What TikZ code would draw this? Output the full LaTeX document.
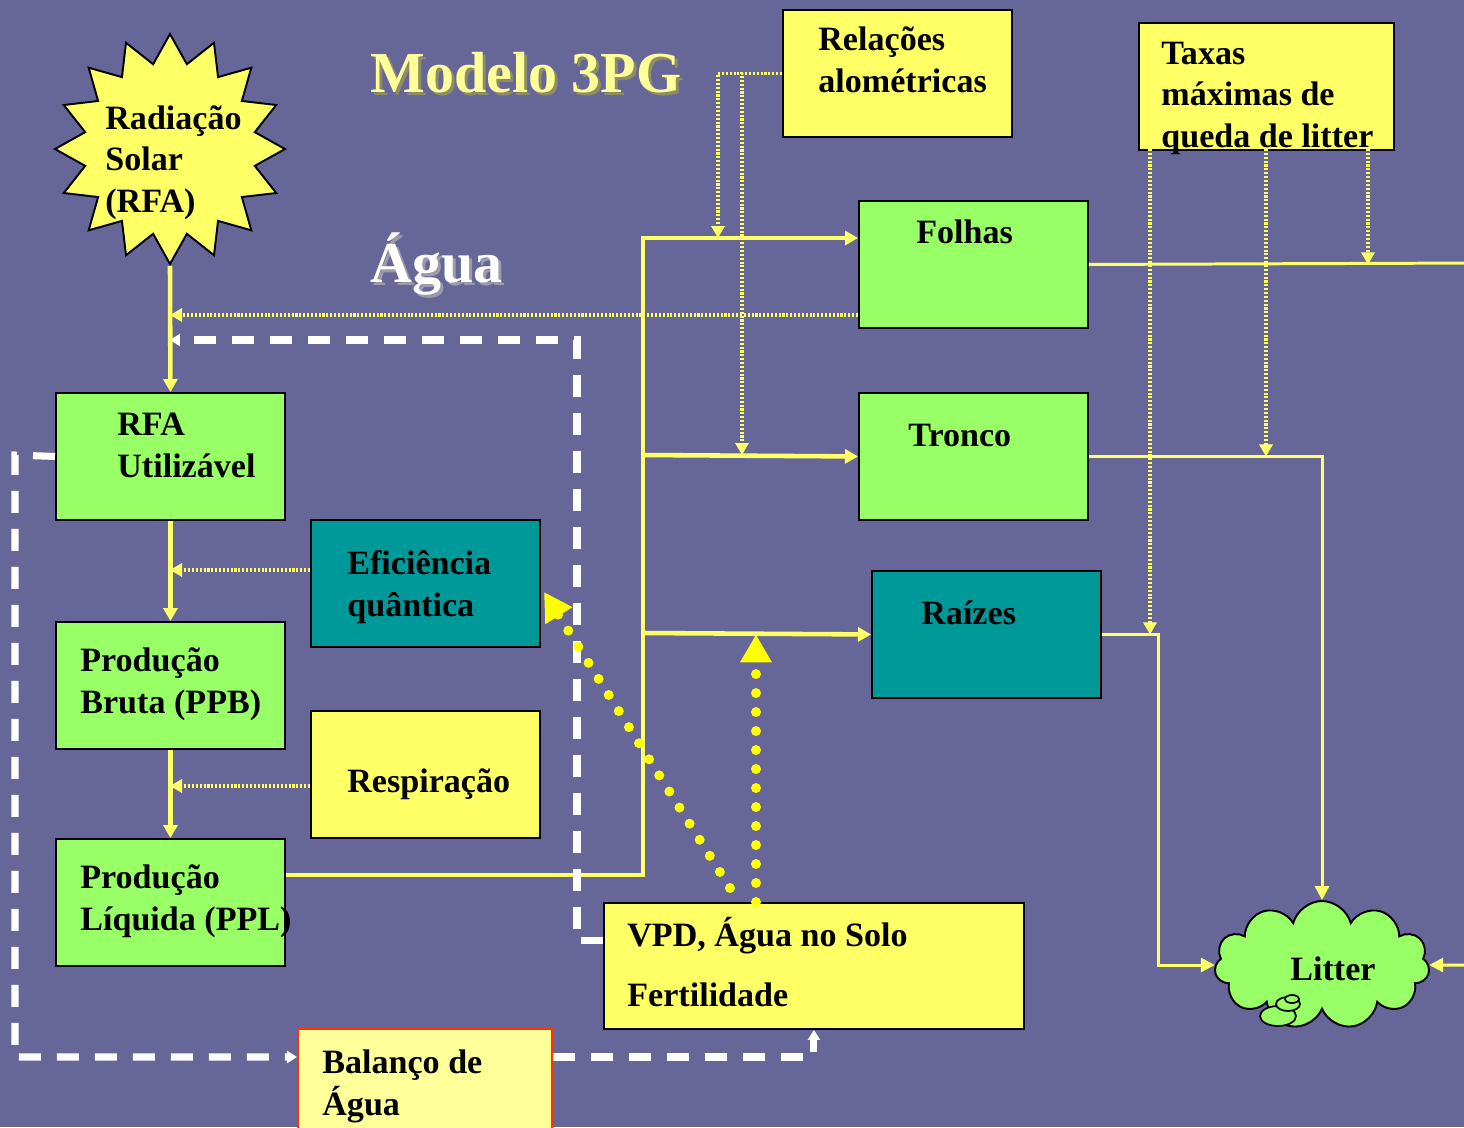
\documentclass[tikz,border=0pt]{standalone}
\usepackage{fontspec}
\setmainfont{Liberation Serif}
\usetikzlibrary{arrows.meta,shapes.geometric,shapes.symbols}

\definecolor{slate}{HTML}{666699}
\definecolor{leaf}{HTML}{99FF66}
\definecolor{tealbg}{HTML}{009999}
\definecolor{paleyellow}{HTML}{FFFF66}
\definecolor{cream}{HTML}{FFFF99}
\definecolor{lineyellow}{HTML}{FFFF66}
\definecolor{dotyellow}{HTML}{FFFF00}
\definecolor{rim}{HTML}{FF3300}
\definecolor{titleshadow}{HTML}{8E8E62}
\definecolor{aguashadow}{HTML}{9C9CA8}

\tikzset{
  box/.style={draw=black, line width=1.1pt, anchor=north west, inner sep=0pt,
    minimum width=4.58cm, minimum height=2.54cm},
  greenbox/.style={box, fill=leaf},
  tealbox/.style={box, fill=tealbg},
  yellowbox/.style={box, fill=paleyellow},
  txt/.style={anchor=base west, inner sep=0pt, align=left,
    font=\fontsize{19.4}{23.6}\selectfont\bfseries},
  titletxt/.style={anchor=base west, inner sep=0pt,
    font=\fontsize{33}{36}\selectfont\bfseries},
  flow/.style={draw=lineyellow, line width=2.6pt,
    -{Triangle[length=0.26cm,width=0.28cm]}},
  hint/.style={draw=lineyellow, line width=2pt, dash pattern=on 1.2pt off 1pt,
    -{Triangle[length=0.24cm,width=0.26cm]}},
  litline/.style={draw=lineyellow, line width=1.7pt,
    -{Triangle[length=0.28cm,width=0.28cm]}},
  water/.style={draw=white, line width=4pt, dash pattern=on 0.44cm off 0.32cm,
    -{Triangle[length=0.2cm,width=0.24cm]}},
  bigdots/.style={draw=dotyellow, line width=0.2cm, line cap=round,
    dash pattern=on 0pt off 0.38cm, -{Triangle[length=0.56cm,width=0.6cm]}},
}

\begin{document}
\begin{tikzpicture}[x=0.02cm,y=-0.02cm]
\useasboundingbox (0,0) rectangle (1464,1127);
\clip (0,0) rectangle (1464,1127);
\fill[slate] (0,0) rectangle (1464,1127);

\node[star, star points=16, star point ratio=1.33, minimum size=4.6cm, inner sep=0pt,
  draw=black, line width=1.1pt, fill=paleyellow] (sun) at (170,149) {};
\node[txt] (sunT) at (105,212) {Radiação\\Solar\\(RFA)};

\node[titletxt, text=titleshadow] (titleS) at (373,95) {Modelo 3PG};
\node[titletxt, text=cream] (title) at (370,92) {Modelo 3PG};
\node[titletxt, text=aguashadow] (aguaS) at (373,285) {Água};
\node[titletxt, text=white] (agua) at (370,282) {Água};

\node[yellowbox] (rel) at (782,9) {};
\node[txt] (relT) at (818,92) {Relações\\alométricas};
\node[yellowbox, minimum width=5.1cm] (taxas) at (1138,22) {};
\node[txt] (taxasT) at (1161,147) {Taxas\\máximas de\\queda de litter};

\node[greenbox] (folhas) at (858,200) {};
\node[txt] (folhasT) at (916,243) {Folhas};
\node[greenbox] (tronco) at (858,392) {};
\node[txt] (troncoT) at (908,446) {Tronco};
\node[tealbox] (raizes) at (871,570) {};
\node[txt] (raizesT) at (921,624) {Raízes};

\node[greenbox] (rfa) at (55,392) {};
\node[txt] (rfaT) at (117,477) {RFA\\Utilizável};
\node[tealbox] (efic) at (310,519) {};
\node[txt] (eficT) at (347,616) {Eficiência\\quântica};
\node[greenbox] (ppb) at (55,621) {};
\node[txt] (ppbT) at (80,713) {Produção\\Bruta (PPB)};
\node[yellowbox] (resp) at (310,710) {};
\node[txt] (respT) at (347,792) {Respiração};
\node[greenbox] (ppl) at (55,838) {};
\node[txt] (pplT) at (80,930) {Produção\\Líquida (PPL)};

\node[yellowbox, minimum width=8.4cm, minimum height=2.52cm] (vpd) at (603,902) {};
\node[txt] (vpdT) at (627,1006) {VPD, Água no Solo\\[10pt]Fertilidade};
\node[box, fill=cream, draw=rim, minimum width=5.08cm] (bal) at (297,1028) {};
\node[txt] (balT) at (322,1115) {Balanço de\\Água};

\node[cloud, cloud puffs=11, aspect=1.7, draw=black, line width=1.1pt, fill=leaf,
  minimum width=4.3cm, minimum height=2.56cm, inner sep=0pt] (litter) at (1322,965) {};
\draw[black, line width=1pt, fill=leaf] (1278,1016) ellipse [x radius=18, y radius=10];
\draw[black, line width=1pt, fill=leaf] (1288,1004) ellipse [x radius=12, y radius=7];
\draw[black, line width=1pt, fill=leaf] (1292,999) ellipse [x radius=7, y radius=4];
\node[txt] (litterT) at (1290,980) {Litter};

\coordinate (e1) at (170,570);
\coordinate (r1) at (170,786);
\coordinate (f1) at (170,315);
\coordinate (w1) at (577,340);
\coordinate (w2) at (15,455);
\coordinate (bw) at ([yshift=-0.58cm]bal.north west);
\coordinate (be) at ([yshift=-0.58cm]bal.north east);
\coordinate (p1) at (643,875);
\coordinate (jf) at (643,238);
\coordinate (jt) at (643,455);
\coordinate (jr) at (643,633);
\coordinate (a1) at (718,238);
\coordinate (a2) at (742,455);
\coordinate (t1) at (1150,149);
\coordinate (t2) at (1266,149);
\coordinate (t3) at (1368,149);
\coordinate (q1) at (1480,263);
\coordinate (d1) at (730,888);
\coordinate (d1end) at (544,592);
\coordinate (d2) at (756,902);

\draw[flow] (sun.south) -- (rfa.north);
\draw[flow] (rfa.south) -- (ppb.north);
\draw[flow] (ppb.south) -- (ppl.north);
\draw[hint] (efic.west |- e1) -- (e1);
\draw[hint] (resp.west |- r1) -- (r1);
\draw[hint] (folhas.west |- f1) -- (f1);

\draw[flow] (ppl.east |- p1) -- (p1) -- (jf) -- (folhas.west |- jf);
\draw[flow] (jt) -- (tronco.west);
\draw[flow] (jr) -- (raizes.west);

\draw[hint] (rel.west) -| (a1);
\draw[hint] (rel.west) -| (a2);
\draw[hint] (t1) -- (t1 |- raizes.east);
\draw[hint] (t2) -- (t2 |- tronco.east);
\draw[hint] (t3) -- (t3 |- folhas.east);

\draw[litline] (folhas.east) -- (q1) |- (litter.east);
\draw[litline] (tronco.east) -| (litter.north);
\draw[litline] (raizes.east) -- ++(57,0) |- (litter.west);

\draw[water] ([yshift=0.5cm]vpd.west) -| (w1) -- (sun.south |- w1);
\draw[water] (rfa.west) -- (w2) |- (bw);
\draw[water] (be) -| (vpd.south);

\draw[bigdots] (d1) -- (d1end);
\draw[bigdots] (d2) -- (d2 |- raizes.west);
\end{tikzpicture}
\end{document}
